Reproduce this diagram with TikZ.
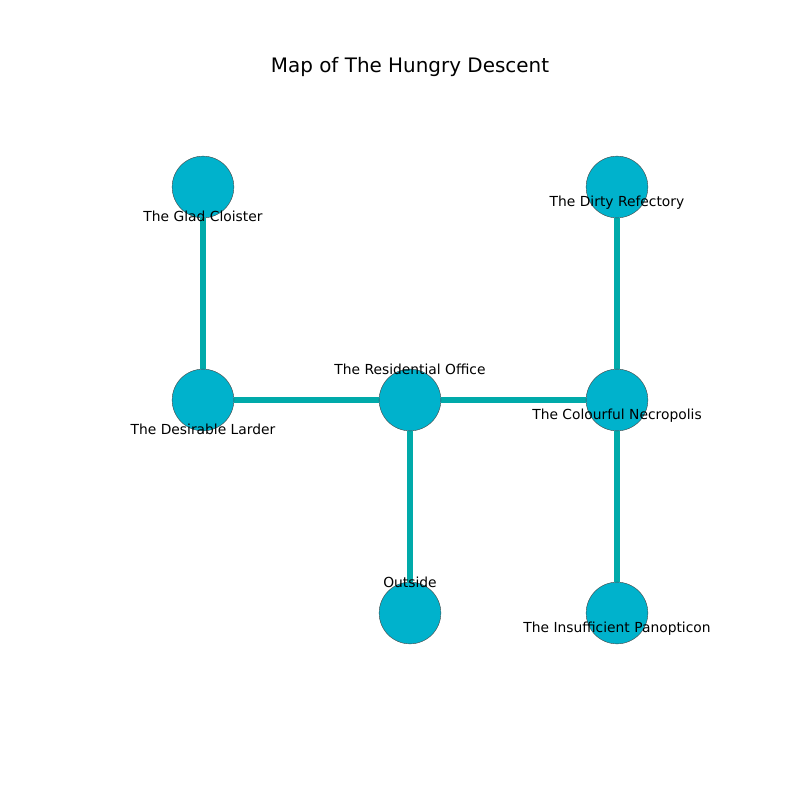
\documentclass[tikz,border=0pt]{standalone}
\usepackage{fontspec}
\setmainfont{DejaVu Sans}
\usetikzlibrary{positioning}
\pgfdeclarelayer{background}
\pgfsetlayers{background,main}
\definecolor{roomfill}{RGB}{0,178,204}
\definecolor{corridor}{RGB}{0,170,170}
\definecolor{roomline}{RGB}{70,70,70}

\begin{document}
\begin{tikzpicture}[x=0.254mm,y=-0.254mm,
    room/.style={circle,fill=roomfill,draw=roomline,line width=0.3pt,minimum size=44.6pt,inner sep=0pt},
    roomname/.style={font=\fontsize{10}{12}\selectfont,inner sep=0pt,text height=1.5ex,text depth=0.3ex},
    passage/.style={draw=corridor,line width=4pt}]
    \useasboundingbox (0,0) rectangle (800,800);

    % Title
    \node[font=\fontsize{14.4}{17}\selectfont] (title) at (410,67) {Map of The Hungry Descent};

    % Rooms
    \node[room] (glad) at (203,187) {};
    \node[room] (refectory) at (617,187) {};
    \node[room] (larder) at (203,400) {};
    \node[room] (office) at (410,400) {};
    \node[room] (necropolis) at (617,400) {};
    \node[room] (outside) at (410,613) {};
    \node[room] (panopticon) at (617,613) {};

    % Passages
    \begin{pgfonlayer}{background}
        \draw[passage] (glad) -- (larder);
        \draw[passage] (larder) -- (office);
        \draw[passage] (office) -- (necropolis);
        \draw[passage] (necropolis) -- (refectory);
        \draw[passage] (necropolis) -- (panopticon);
        \draw[passage] (office) -- (outside);
    \end{pgfonlayer}

    % Names
    \node[roomname] (gladname) at (203,217) {The Glad Cloister};
    \node[roomname] (refectoryname) at (617,202) {The Dirty Refectory};
    \node[roomname] (lardername) at (203,430) {The Desirable Larder};
    \node[roomname] (officename) at (410,370) {The Residential Office};
    \node[roomname] (necropolisname) at (617,415) {The Colourful Necropolis};
    \node[roomname] (outsidename) at (410,583) {Outside};
    \node[roomname] (panopticonname) at (617,628) {The Insufficient Panopticon};
\end{tikzpicture}
\end{document}
